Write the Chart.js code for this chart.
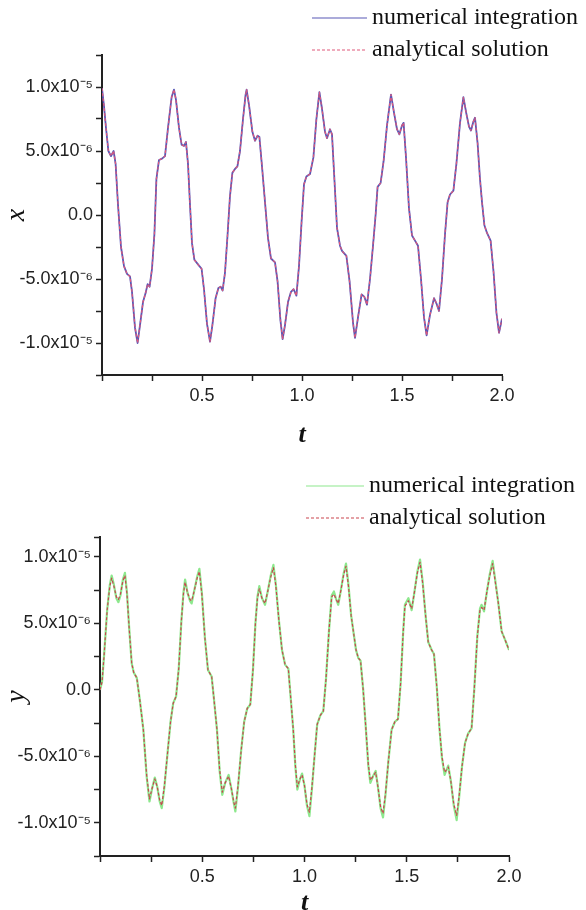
<!DOCTYPE html>
<html>
<head>
<meta charset="utf-8">
<script src="https://cdn.jsdelivr.net/npm/chart.js@4.4.1/dist/chart.umd.min.js"></script>
<style>
  html, body { margin: 0; padding: 0; background: #fff; overflow: hidden; }
  canvas { position: absolute; left: 0; }
  #xChart { top: 0; }
  #yChart { top: 460px; }
</style>
</head>
<body>
<canvas id="xChart" width="586" height="460"></canvas>
<canvas id="yChart" width="586" height="470"></canvas>
<script>
// values are in units of 1e-6
const UNIT = 1e-6;

const seriesNames = ['numerical integration', 'analytical solution'];

// x(t): numerical and analytical curves coincide
const tX = [
  0.000, 0.010, 0.020, 0.032, 0.045, 0.058, 0.068, 0.080, 0.095, 0.110,
  0.125, 0.140, 0.150, 0.165, 0.178, 0.190, 0.205, 0.218, 0.228, 0.238,
  0.250, 0.262, 0.272, 0.285, 0.300, 0.315, 0.330, 0.348, 0.360, 0.370,
  0.385, 0.398, 0.410, 0.420, 0.430, 0.440, 0.450, 0.462, 0.482, 0.498,
  0.510, 0.525, 0.540, 0.552, 0.568, 0.582, 0.593, 0.603, 0.615, 0.628,
  0.640, 0.652, 0.665, 0.677, 0.690, 0.705, 0.718, 0.723, 0.735, 0.752,
  0.765, 0.778, 0.787, 0.800, 0.815, 0.830, 0.845, 0.865, 0.878, 0.892,
  0.903, 0.915, 0.930, 0.945, 0.958, 0.972, 0.985, 0.998, 1.010, 1.022,
  1.040, 1.057, 1.072, 1.087, 1.100, 1.115, 1.125, 1.140, 1.150, 1.162,
  1.175, 1.190, 1.200, 1.222, 1.238, 1.255, 1.265, 1.280, 1.298, 1.312,
  1.325, 1.340, 1.355, 1.368, 1.378, 1.393, 1.408, 1.425, 1.445, 1.460,
  1.475, 1.487, 1.500, 1.508, 1.520, 1.535, 1.550, 1.565, 1.580, 1.595,
  1.610, 1.623, 1.640, 1.660, 1.672, 1.685, 1.700, 1.715, 1.728, 1.740,
  1.757, 1.772, 1.790, 1.807, 1.822, 1.835, 1.845, 1.857, 1.865, 1.878,
  1.890, 1.900, 1.912, 1.925, 1.943, 1.958, 1.972, 1.985, 2.000
];
const xValues = [
  9.9, 8.5, 6.8, 5.0, 4.6, 5.0, 4.0, 0.8, -2.5, -4.0,
  -4.6, -4.8, -6.0, -8.8, -10.0, -8.6, -6.8, -6.1, -5.4, -5.6,
  -4.2, -1.5, 2.8, 4.3, 4.4, 4.6, 6.8, 9.2, 9.8, 9.0,
  6.8, 5.5, 5.4, 5.7, 4.0, 0.8, -2.2, -3.5, -3.9, -4.2,
  -5.8, -8.5, -9.9, -8.6, -6.5, -5.7, -5.6, -5.9, -4.5, -1.5,
  1.5, 3.3, 3.6, 3.8, 5.0, 7.5, 9.4, 9.8, 8.6, 6.5,
  5.8, 6.2, 6.1, 3.8, 1.0, -1.8, -3.4, -3.7, -5.2, -8.2,
  -9.7, -8.6, -6.8, -6.0, -5.8, -6.3, -4.0, -0.5, 2.4, 3.0,
  3.2, 4.5, 7.5, 9.6, 8.3, 6.5, 6.0, 6.7, 6.3, 2.8,
  -1.0, -2.4, -2.8, -3.2, -5.2, -8.4, -9.6, -8.0, -6.2, -6.4,
  -7.0, -5.0, -2.4, 0.0, 2.2, 2.5, 4.2, 7.0, 9.4, 8.0,
  6.7, 6.3, 7.0, 7.2, 4.5, 0.5, -1.6, -2.0, -2.4, -5.0,
  -8.0, -9.4, -7.8, -6.5, -6.9, -7.5, -5.0, -1.5, 1.0, 1.6,
  1.9, 4.0, 7.2, 9.2, 7.9, 6.9, 6.6, 7.3, 7.6, 5.6,
  2.8, 1.0, -0.8, -1.4, -2.0, -4.5, -7.6, -9.2, -8.1
];

// y(t)
const tY = [
  0.000, 0.010, 0.020, 0.035, 0.048, 0.057, 0.068, 0.080, 0.090, 0.100,
  0.112, 0.122, 0.132, 0.142, 0.155, 0.165, 0.180, 0.195, 0.212, 0.228,
  0.242, 0.255, 0.268, 0.280, 0.292, 0.302, 0.315, 0.330, 0.345, 0.358,
  0.372, 0.385, 0.398, 0.408, 0.416, 0.428, 0.440, 0.448, 0.460, 0.475,
  0.486, 0.498, 0.513, 0.528, 0.546, 0.558, 0.572, 0.585, 0.598, 0.612,
  0.629, 0.642, 0.655, 0.662, 0.675, 0.690, 0.705, 0.720, 0.735, 0.748,
  0.760, 0.770, 0.779, 0.792, 0.807, 0.820, 0.835, 0.848, 0.860, 0.875,
  0.890, 0.905, 0.921, 0.932, 0.945, 0.955, 0.965, 0.978, 0.988, 1.000,
  1.012, 1.024, 1.036, 1.050, 1.062, 1.078, 1.092, 1.105, 1.120, 1.133,
  1.144, 1.155, 1.165, 1.178, 1.192, 1.203, 1.215, 1.228, 1.239, 1.252,
  1.263, 1.274, 1.287, 1.300, 1.312, 1.322, 1.335, 1.348, 1.360, 1.372,
  1.384, 1.396, 1.410, 1.426, 1.442, 1.457, 1.470, 1.482, 1.491, 1.508,
  1.524, 1.538, 1.552, 1.565, 1.578, 1.592, 1.605, 1.622, 1.633, 1.647,
  1.660, 1.672, 1.685, 1.695, 1.703, 1.715, 1.730, 1.744, 1.756, 1.770,
  1.785, 1.800, 1.817, 1.830, 1.845, 1.858, 1.866, 1.878, 1.892, 1.906,
  1.920, 1.934, 1.948, 1.964, 1.980, 1.990, 2.000
];
const yAnalytical = [
  0.0, 0.6, 2.6, 6.0, 7.8, 8.4, 7.8, 7.0, 6.8, 7.2,
  8.2, 8.6, 7.2, 4.8, 2.0, 1.3, 0.9, -0.8, -3.0, -6.4,
  -8.2, -7.4, -6.7, -7.3, -8.3, -8.7, -7.2, -4.8, -2.4, -1.0,
  -0.5, 1.6, 5.2, 7.2, 8.1, 7.3, 6.8, 6.7, 7.4, 8.4,
  8.9, 7.2, 3.9, 1.5, 1.0, -0.8, -3.0, -6.0, -7.7, -7.0,
  -6.5, -7.4, -8.5, -8.9, -7.2, -4.6, -2.4, -1.4, -1.1, 1.5,
  5.0, 6.9, 7.6, 6.9, 6.5, 7.4, 8.5, 9.2, 7.8, 5.2,
  3.0, 1.9, 1.6, -0.5, -3.0, -5.6, -7.3, -6.7, -6.4, -7.2,
  -8.6, -9.2, -7.4, -4.8, -2.6, -1.9, -1.6, 0.8, 4.5, 7.0,
  7.2, 6.8, 6.5, 7.5, 8.7, 9.3, 7.8, 5.6, 4.4, 3.0,
  2.4, 2.2, 0.0, -2.9, -5.6, -6.8, -6.5, -6.2, -7.4, -8.8,
  -9.3, -7.8, -5.4, -3.0, -2.4, -2.2, 0.5, 4.2, 6.3, 6.7,
  6.1, 7.4, 8.8, 9.6, 8.0, 5.6, 3.6, 3.0, 2.7, 0.2,
  -2.9, -5.0, -6.2, -6.0, -5.8, -6.8, -8.6, -9.45, -8.0, -5.8,
  -4.0, -3.3, -2.9, 0.0, 4.0, 6.0, 6.2, 6.0, 7.4, 8.6,
  9.5, 8.0, 6.5, 4.4, 3.8, 3.4, 3.0
];
const yNumerical = [
  0.0, 0.6, 2.6, 6.0, 7.9, 8.6, 7.9, 6.9, 6.6, 7.1,
  8.3, 8.8, 7.3, 4.8, 2.0, 1.3, 0.9, -0.8, -3.0, -6.5,
  -8.4, -7.4, -6.6, -7.3, -8.4, -8.9, -7.3, -4.8, -2.4, -1.0,
  -0.5, 1.6, 5.2, 7.3, 8.3, 7.3, 6.7, 6.5, 7.4, 8.5,
  9.1, 7.3, 3.9, 1.5, 1.0, -0.8, -3.0, -6.1, -7.9, -7.0,
  -6.4, -7.4, -8.6, -9.15, -7.3, -4.6, -2.4, -1.4, -1.1, 1.5,
  5.0, 7.0, 7.8, 6.9, 6.4, 7.4, 8.6, 9.4, 7.9, 5.2,
  3.0, 1.9, 1.6, -0.5, -3.0, -5.7, -7.5, -6.7, -6.3, -7.2,
  -8.7, -9.5, -7.5, -4.8, -2.6, -1.9, -1.6, 0.8, 4.5, 7.1,
  7.4, 6.8, 6.4, 7.5, 8.8, 9.5, 7.9, 5.6, 4.4, 3.0,
  2.4, 2.2, 0.0, -2.9, -5.7, -7.0, -6.5, -6.1, -7.4, -8.9,
  -9.6, -7.9, -5.4, -3.0, -2.4, -2.2, 0.5, 4.2, 6.4, 6.9,
  6.0, 7.4, 8.9, 9.8, 8.1, 5.6, 3.6, 3.0, 2.7, 0.2,
  -2.9, -5.1, -6.4, -6.0, -5.7, -6.8, -8.7, -9.8, -8.1, -5.8,
  -4.0, -3.3, -2.9, 0.0, 4.0, 6.1, 6.4, 5.9, 7.4, 8.7,
  9.7, 8.1, 6.5, 4.4, 3.8, 3.4, 3.0
];

// axis ticks
const tTicks = [0, 0.25, 0.5, 0.75, 1.0, 1.25, 1.5, 1.75, 2.0];
const tTickLabels = ['', '', '0.5', '', '1.0', '', '1.5', '', '2.0'];
const xAxisTicks = [-12.5, -10, -7.5, -5, -2.5, 0, 2.5, 5, 7.5, 10, 12.5];
const yAxisTicks = [-12.5, -10, -7.5, -5, -2.5, 0, 2.5, 5, 7.5, 10, 11.5];
const valueTickLabels = ['', '-1.0x10\u207B\u2075', '', '-5.0x10\u207B\u2076', '', '0.0',
                         '', '5.0x10\u207B\u2076', '', '1.0x10\u207B\u2075', ''];

const SANS = "'Liberation Sans', Arial, sans-serif";
const SERIF = "'Liberation Serif', 'Times New Roman', serif";
const INK = '#222';

const points = (ts, vs) => ts.map((t, i) => ({ x: t, y: vs[i] * UNIT }));

// two-row legend with line samples, placed above the plot
const lineLegend = {
  id: 'lineLegend',
  afterDraw(chart, args, opts) {
    const ctx = chart.ctx;
    ctx.save();
    ctx.font = opts.font;
    ctx.textBaseline = 'middle';
    chart.data.datasets.forEach((ds, i) => {
      const y = opts.y + i * opts.rowGap;
      ctx.strokeStyle = ds.borderColor;
      ctx.lineWidth = 1.2;
      ctx.setLineDash(ds.borderDash || []);
      ctx.beginPath();
      ctx.moveTo(opts.x, y);
      ctx.lineTo(opts.x + opts.sampleWidth, y);
      ctx.stroke();
      ctx.setLineDash([]);
      ctx.fillStyle = '#111';
      ctx.fillText(ds.label, opts.x + opts.sampleWidth + 5, y);
    });
    ctx.restore();
  }
};

function panelOptions(p) {
  return {
    responsive: false,
    animation: false,
    devicePixelRatio: 1,
    events: [],
    layout: { padding: p.padding },
    plugins: {
      legend: { display: false },
      tooltip: { enabled: false },
      lineLegend: p.legend
    },
    elements: { point: { radius: 0 }, line: { tension: 0, borderJoinStyle: 'round' } },
    scales: {
      x: {
        type: 'linear',
        min: 0,
        max: 2,
        afterBuildTicks: s => { s.ticks = tTicks.map(v => ({ value: v })); },
        afterFit: s => { s.height = p.xAxisHeight; },
        border: { display: true, color: INK, width: 2 },
        grid: { drawOnChartArea: false, drawTicks: true, tickLength: 6, tickColor: INK, tickWidth: 1.5 },
        ticks: {
          autoSkip: false, maxRotation: 0, padding: 4, color: INK,
          font: { family: SANS, size: 18 },
          callback: (v, i) => tTickLabels[i]
        },
        title: {
          display: true, text: 't', color: '#111', padding: 0,
          font: { family: SERIF, style: 'italic', weight: 'bold', size: 26 }
        }
      },
      y: {
        type: 'linear',
        min: p.ticks[0] * UNIT,
        max: p.ticks[p.ticks.length - 1] * UNIT,
        afterBuildTicks: s => { s.ticks = p.ticks.map(v => ({ value: v * UNIT })); },
        afterFit: s => { s.width = p.yAxisWidth; },
        border: { display: true, color: INK, width: 2 },
        grid: { drawOnChartArea: false, drawTicks: true, tickLength: 6, tickColor: INK, tickWidth: 1.5 },
        ticks: {
          autoSkip: false, padding: 3, color: INK,
          font: { family: SANS, size: 18 },
          callback: (v, i) => valueTickLabels[i]
        },
        title: {
          display: true, text: p.yTitle, color: '#111', padding: 0,
          font: { family: SERIF, style: 'italic', size: 28 }
        }
      }
    }
  };
}

new Chart(document.getElementById('xChart'), {
  type: 'line',
  data: {
    datasets: [
      { label: seriesNames[0], data: points(tX, xValues), borderColor: '#5858b6', borderWidth: 1.8, order: 1 },
      { label: seriesNames[1], data: points(tX, xValues), borderColor: '#e0587a', borderWidth: 1.2, borderDash: [3, 2], order: 0 }
    ]
  },
  options: panelOptions({
    padding: { top: 55, right: 84, bottom: 9, left: 0 },
    xAxisHeight: 76,
    yAxisWidth: 102,
    ticks: xAxisTicks,
    yTitle: 'x',
    legend: { x: 312, y: 18, rowGap: 32, sampleWidth: 55, font: '24px ' + SERIF }
  }),
  plugins: [lineLegend]
});

new Chart(document.getElementById('yChart'), {
  type: 'line',
  data: {
    datasets: [
      { label: seriesNames[0], data: points(tY, yNumerical), borderColor: '#8de88d', borderWidth: 2.2, order: 1 },
      { label: seriesNames[1], data: points(tY, yAnalytical), borderColor: '#c9444f', borderWidth: 1.2, borderDash: [3, 2], order: 0 }
    ]
  },
  options: panelOptions({
    padding: { top: 77, right: 77, bottom: 11, left: 0 },
    xAxisHeight: 63,
    yAxisWidth: 100,
    ticks: yAxisTicks,
    yTitle: 'y',
    legend: { x: 306, y: 26, rowGap: 32, sampleWidth: 58, font: '24px ' + SERIF }
  }),
  plugins: [lineLegend]
});
</script>
</body>
</html>
